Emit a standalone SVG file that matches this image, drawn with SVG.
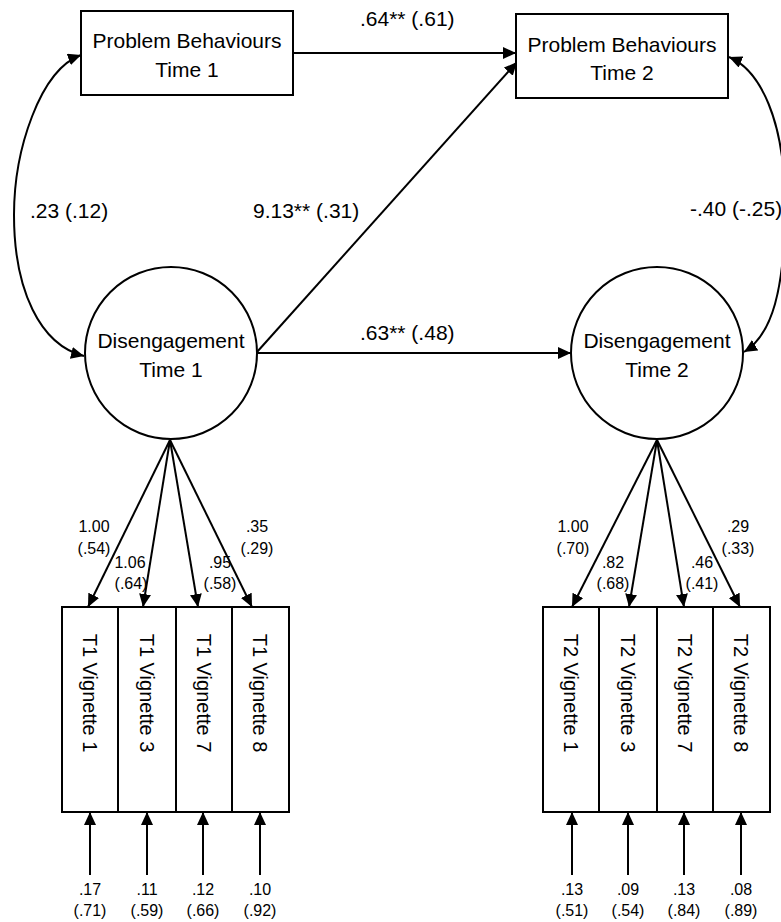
<svg xmlns="http://www.w3.org/2000/svg" width="781" height="922" viewBox="0 0 781 922">
<defs>
<marker id="ah" markerUnits="userSpaceOnUse" markerWidth="14" markerHeight="12" refX="13" refY="6" orient="auto-start-reverse">
<path d="M0,0 L13,6 L0,12 z" fill="#000"/>
</marker>
</defs>
<style>
.box{fill:#fff;stroke:#000;stroke-width:2}
.ln{fill:none;stroke:#000;stroke-width:2;marker-end:url(#ah)}
.dbl{fill:none;stroke:#000;stroke-width:2;marker-start:url(#ah);marker-end:url(#ah)}
text{font-family:"Liberation Sans",Arial,sans-serif;fill:#000}
.big{font-size:21px;text-anchor:middle}
.lab{font-size:21px}
.sm{font-size:16px;text-anchor:middle}
.vig{font-size:20px;text-anchor:middle}
</style>
<rect width="781" height="922" fill="#fff"/>
<g id="connectors">
<path class="ln" d="M293 53 L516 53"/>
<path class="ln" d="M257 352 L517 62"/>
<path class="ln" d="M257 353 L571 353"/>
<path class="dbl" d="M81 55 C40 70 14 150 14 215 C14 290 40 345 84 356"/>
<path class="dbl" d="M729 57 C760 70 785 120 785 205 C785 290 772 335 744 352"/>
<path class="ln" d="M170 440 L88 607"/>
<path class="ln" d="M170 440 L143 607"/>
<path class="ln" d="M170 440 L198 607"/>
<path class="ln" d="M170 440 L252 607"/>
<path class="ln" d="M657 440 L572 607"/>
<path class="ln" d="M657 440 L629 607"/>
<path class="ln" d="M657 440 L684 607"/>
<path class="ln" d="M657 440 L740 607"/>
<path class="ln" d="M90 875 L90 812"/>
<path class="ln" d="M147 875 L147 812"/>
<path class="ln" d="M203 875 L203 812"/>
<path class="ln" d="M260 875 L260 812"/>
<path class="ln" d="M572 875 L572 812"/>
<path class="ln" d="M628 875 L628 812"/>
<path class="ln" d="M684 875 L684 812"/>
<path class="ln" d="M741 875 L741 812"/>
<text class="lab" x="360" y="26">.64** (.61)</text>
<text class="lab" x="253" y="218">9.13** (.31)</text>
<text class="lab" x="30" y="218">.23 (.12)</text>
<text class="lab" x="690" y="216">-.40 (-.25)</text>
<text class="lab" x="360" y="340">.63** (.48)</text>
<text class="sm" x="94" y="532">1.00</text><text class="sm" x="94" y="554">(.54)</text>
<text class="sm" x="130" y="568">1.06</text><text class="sm" x="131" y="589">(.64)</text>
<text class="sm" x="220" y="568">.95</text><text class="sm" x="220" y="589">(.58)</text>
<text class="sm" x="257" y="532">.35</text><text class="sm" x="257" y="554">(.29)</text>
<text class="sm" x="573" y="532">1.00</text><text class="sm" x="573" y="554">(.70)</text>
<text class="sm" x="613" y="568">.82</text><text class="sm" x="613" y="589">(.68)</text>
<text class="sm" x="702" y="568">.46</text><text class="sm" x="702" y="589">(.41)</text>
<text class="sm" x="738" y="532">.29</text><text class="sm" x="738" y="554">(.33)</text>
<text class="sm" x="90" y="895">.17</text><text class="sm" x="90" y="916">(.71)</text>
<text class="sm" x="147" y="895">.11</text><text class="sm" x="147" y="916">(.59)</text>
<text class="sm" x="203" y="895">.12</text><text class="sm" x="203" y="916">(.66)</text>
<text class="sm" x="260" y="895">.10</text><text class="sm" x="260" y="916">(.92)</text>
<text class="sm" x="572" y="895">.13</text><text class="sm" x="572" y="916">(.51)</text>
<text class="sm" x="628" y="895">.09</text><text class="sm" x="628" y="916">(.54)</text>
<text class="sm" x="684" y="895">.13</text><text class="sm" x="684" y="916">(.84)</text>
<text class="sm" x="741" y="895">.08</text><text class="sm" x="741" y="916">(.89)</text>
</g>
<g id="pb1"><rect class="box" x="81" y="11" width="212" height="84"/><text class="big" x="187" y="48">Problem Behaviours</text><text class="big" x="187" y="77">Time 1</text></g>
<g id="pb2"><rect class="box" x="516" y="14" width="212" height="84"/><text class="big" x="622" y="52">Problem Behaviours</text><text class="big" x="622" y="80">Time 2</text></g>
<g id="dis1"><circle class="box" cx="171" cy="353" r="86" style="fill:none"/><text class="big" x="171" y="348">Disengagement</text><text class="big" x="171" y="377">Time 1</text></g>
<g id="dis2"><circle class="box" cx="657" cy="353" r="86" style="fill:none"/><text class="big" x="657" y="348">Disengagement</text><text class="big" x="657" y="377">Time 2</text></g>
<g id="t1v1"><rect class="box" x="62" y="607" width="56" height="205"/><text class="vig" transform="translate(90 693) rotate(90)" y="7">T1 Vignette 1</text></g>
<g id="t1v3"><rect class="box" x="118" y="607" width="58" height="205"/><text class="vig" transform="translate(147 693) rotate(90)" y="7">T1 Vignette 3</text></g>
<g id="t1v7"><rect class="box" x="176" y="607" width="56" height="205"/><text class="vig" transform="translate(204 693) rotate(90)" y="7">T1 Vignette 7</text></g>
<g id="t1v8"><rect class="box" x="232" y="607" width="57" height="205"/><text class="vig" transform="translate(260 693) rotate(90)" y="7">T1 Vignette 8</text></g>
<g id="t2v1"><rect class="box" x="543" y="607" width="56" height="205"/><text class="vig" transform="translate(571 693) rotate(90)" y="7">T2 Vignette 1</text></g>
<g id="t2v3"><rect class="box" x="599" y="607" width="58" height="205"/><text class="vig" transform="translate(628 693) rotate(90)" y="7">T2 Vignette 3</text></g>
<g id="t2v7"><rect class="box" x="657" y="607" width="56" height="205"/><text class="vig" transform="translate(685 693) rotate(90)" y="7">T2 Vignette 7</text></g>
<g id="t2v8"><rect class="box" x="713" y="607" width="57" height="205"/><text class="vig" transform="translate(741 693) rotate(90)" y="7">T2 Vignette 8</text></g>
</svg>
